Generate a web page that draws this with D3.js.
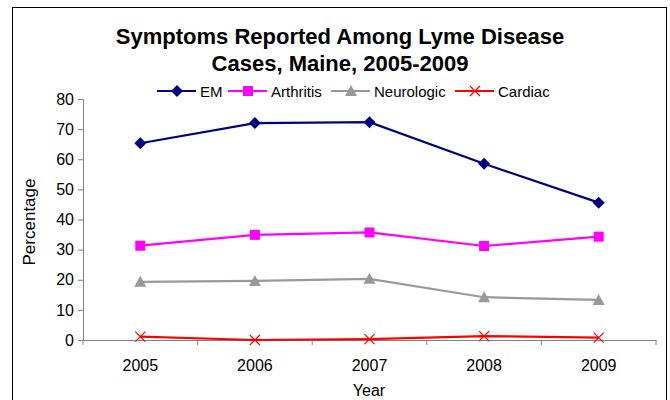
<!DOCTYPE html>
<html>
<head>
<meta charset="utf-8">
<script src="https://cdn.jsdelivr.net/npm/d3@7"></script>
<style>
  body { margin: 0; background: #fff; }
  svg { display: block; }
  text { font-family: "Liberation Sans", Arial, sans-serif; fill: #000; }
</style>
</head>
<body>
<div id="chart"></div>
<script>
const years = ["2005", "2006", "2007", "2008", "2009"]
const em = [65.3, 72.0, 72.3, 58.5, 45.6]
const arthritis = [31.3, 34.9, 35.7, 31.2, 34.3]
const neurologic = [19.3, 19.6, 20.3, 14.2, 13.3]
const cardiac = [1.1, 0, 0.3, 1.3, 0.8]
const yTicks = [0, 10, 20, 30, 40, 50, 60, 70, 80]

const width = 670
const height = 400

const series = [
  { name: "EM", values: em, color: "#000080", marker: "diamond" },
  { name: "Arthritis", values: arthritis, color: "#ff00ff", marker: "square" },
  { name: "Neurologic", values: neurologic, color: "#999999", marker: "triangle" },
  { name: "Cardiac", values: cardiac, color: "#ff0000", marker: "cross" }
]

const svg = d3.select('#chart')
  .append("svg")
  .attr("width", width)
  .attr("height", height);

// outer frame
svg.append("rect")
  .attr("x", 12.5).attr("y", 7.5)
  .attr("width", 654).attr("height", 400)
  .attr("fill", "none").attr("stroke", "#000").attr("stroke-width", 1);

const xScale = d3.scaleBand().domain(years).range([83, 656]).padding(0)
const yScale = d3.scaleLinear().domain([0, 80]).range([340, 99])

// y axis
const yAxis = svg.append("g")
  .attr("transform", "translate(83,0)")
  .call(d3.axisLeft(yScale).tickValues(yTicks).tickSize(5).tickPadding(4));
yAxis.selectAll("path, line").attr("stroke", "#808080");
yAxis.selectAll("text").style("font-size", "16px").style("font-family", "Liberation Sans, Arial, sans-serif");

// x axis with ticks on band edges
const xAxis = svg.append("g")
  .attr("transform", "translate(0,340)")
  .call(d3.axisBottom(xScale).tickSize(0).tickPadding(20));
xAxis.select(".domain").attr("stroke", "#808080");
xAxis.selectAll("text").style("font-size", "16px").style("font-family", "Liberation Sans, Arial, sans-serif");
const edges = years.map(y => xScale(y)).concat([xScale.range()[1]]);
xAxis.selectAll(".edge")
  .data(edges)
  .enter()
  .append("line")
  .attr("x1", d => d).attr("x2", d => d)
  .attr("y1", 0).attr("y2", 5)
  .attr("stroke", "#808080");

const cx = d => xScale(d) + xScale.bandwidth() / 2

function drawMarker(g, type, color) {
  if (type === "diamond") {
    g.append("path").attr("d", "M0,-6L6,0L0,6L-6,0Z").attr("fill", color);
  } else if (type === "square") {
    g.append("rect").attr("x", -5).attr("y", -5).attr("width", 10).attr("height", 10).attr("fill", color);
  } else if (type === "triangle") {
    g.append("path").attr("d", "M0,-6L6,5L-6,5Z").attr("fill", color);
  } else {
    g.append("path").attr("d", "M-5,-5L5,5M-5,5L5,-5").attr("stroke", color).attr("stroke-width", 1.2).attr("fill", "none");
  }
}

const line = d3.line()
  .x((d, i) => cx(years[i]))
  .y(d => yScale(d));

series.forEach(s => {
  svg.append("path")
    .datum(s.values)
    .attr("d", line)
    .attr("fill", "none")
    .attr("stroke", s.color)
    .attr("stroke-width", 2.2);
  s.values.forEach((v, i) => {
    const g = svg.append("g").attr("transform", `translate(${cx(years[i])},${yScale(v)})`);
    drawMarker(g, s.marker, s.color);
  });
});

// title
svg.append("text")
  .attr("x", 340).attr("y", 44)
  .attr("text-anchor", "middle")
  .style("font-size", "22px").style("font-weight", "bold")
  .text("Symptoms Reported Among Lyme Disease");
svg.append("text")
  .attr("x", 340).attr("y", 71)
  .attr("text-anchor", "middle")
  .style("font-size", "22px").style("font-weight", "bold")
  .text("Cases, Maine, 2005-2009");

// legend
const legendX = [157, 228, 331, 455]
series.forEach((s, i) => {
  const g = svg.append("g").attr("transform", `translate(${legendX[i]},91)`);
  g.append("line").attr("x1", 0).attr("x2", 39).attr("y1", 0).attr("y2", 0)
    .attr("stroke", s.color).attr("stroke-width", 2.2);
  const m = g.append("g").attr("transform", "translate(20,0)");
  drawMarker(m, s.marker, s.color);
  g.append("text").attr("x", 43).attr("y", 5.5)
    .style("font-size", "15px")
    .text(s.name);
});

// axis titles
svg.append("text")
  .attr("transform", "translate(35,222) rotate(-90)")
  .attr("text-anchor", "middle")
  .style("font-size", "17px")
  .text("Percentage");
svg.append("text")
  .attr("x", 369).attr("y", 396)
  .attr("text-anchor", "middle")
  .style("font-size", "16px")
  .text("Year");
</script>
</body>
</html>
